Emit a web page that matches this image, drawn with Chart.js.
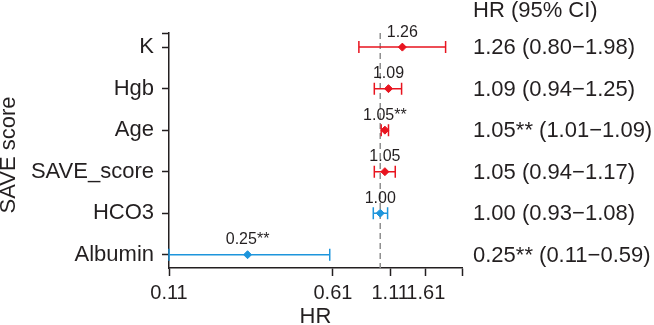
<!DOCTYPE html>
<html>
<head>
<meta charset="utf-8">
<script src="https://cdn.jsdelivr.net/npm/chart.js@4/dist/chart.umd.min.js"></script>
<style>
  html, body { margin: 0; padding: 0; background: #fff; }
  #grafico { display: block; }
</style>
</head>
<body>
<canvas id="grafico" width="654" height="325"></canvas>
<script>
const variaveis = ['K', 'Hgb', 'Age', 'SAVE_score', 'HCO3', 'Albumin'];
const hr = [1.26, 1.09, 1.05, 1.05, 1.00, 0.25];
const icInferior = [0.80, 0.94, 1.01, 0.94, 0.93, 0.11];
const icSuperior = [1.98, 1.25, 1.09, 1.17, 1.08, 0.59];
const rotulosPonto = ['1.26', '1.09', '1.05**', '1.05', '1.00', '0.25**'];
const textoIC = ['1.26 (0.80\u22121.98)', '1.09 (0.94\u22121.25)', '1.05** (1.01\u22121.09)',
  '1.05 (0.94\u22121.17)', '1.00 (0.93\u22121.08)', '0.25** (0.11\u22120.59)'];
const ticksX = [0.11, 0.61, 1.11, 1.61];
const xMin = 0.11, xMax = 2.35;

const VERMELHO = '#e8141f';
const AZUL = '#1d95dc';
const ESCURO = '#231f20';
const FONTE = "'Liberation Sans', Arial, sans-serif";

const n = variaveis.length;
const cores = hr.map(v => v > 1 ? VERMELHO : AZUL);

const pluginForest = {
  id: 'forest',
  beforeDatasetsDraw(chart) {
    const ctx = chart.ctx;
    const x = chart.scales.x, y = chart.scales.y;
    const area = chart.chartArea;
    // linha de referencia HR = 1
    ctx.save();
    ctx.strokeStyle = '#8f8f8f';
    ctx.lineWidth = 1.5;
    ctx.setLineDash([6, 4]);
    ctx.beginPath();
    ctx.moveTo(x.getPixelForValue(1), area.top);
    ctx.lineTo(x.getPixelForValue(1), area.bottom);
    ctx.stroke();
    ctx.setLineDash([]);
    // intervalos de confianca
    ctx.lineWidth = 1.5;
    for (let i = 0; i < n; i++) {
      const py = y.getPixelForValue(n - i);
      const x1 = x.getPixelForValue(icInferior[i]);
      const x2 = x.getPixelForValue(icSuperior[i]);
      ctx.strokeStyle = cores[i];
      ctx.beginPath();
      ctx.moveTo(x1, py); ctx.lineTo(x2, py);
      ctx.moveTo(x1, py - 6); ctx.lineTo(x1, py + 6);
      ctx.moveTo(x2, py - 6); ctx.lineTo(x2, py + 6);
      ctx.stroke();
    }
    ctx.restore();
  },
  afterDraw(chart) {
    const ctx = chart.ctx;
    const x = chart.scales.x, y = chart.scales.y;
    ctx.save();
    ctx.fillStyle = ESCURO;
    ctx.textBaseline = 'middle';
    // rotulos acima dos pontos
    ctx.font = '16px ' + FONTE;
    ctx.textAlign = 'center';
    for (let i = 0; i < n; i++) {
      ctx.fillText(rotulosPonto[i], x.getPixelForValue(hr[i]), y.getPixelForValue(n - i) - 15);
    }
    // coluna da direita
    ctx.font = '22px ' + FONTE;
    ctx.textAlign = 'left';
    ctx.fillText('HR (95% CI)', 473, 11);
    for (let i = 0; i < n; i++) {
      ctx.fillText(textoIC[i], 473, y.getPixelForValue(n - i) + 1);
    }
    // titulos dos eixos
    ctx.textAlign = 'center';
    ctx.fillText('HR', (chart.chartArea.left + chart.chartArea.right) / 2, 317);
    ctx.translate(9, 155);
    ctx.rotate(-Math.PI / 2);
    ctx.fillText('SAVE score', 0, 0);
    ctx.restore();
  }
};

const eixoComum = {
  grid: { drawOnChartArea: false, drawTicks: true, tickColor: ESCURO, tickWidth: 1.5 },
  border: { color: ESCURO, width: 1.5 },
  ticks: { color: ESCURO, font: { family: FONTE, size: 22 } }
};

new Chart(document.getElementById('grafico'), {
  type: 'scatter',
  data: {
    datasets: [{
      data: hr.map((v, i) => ({ x: v, y: n - i })),
      pointStyle: 'rectRot',
      pointRadius: 4,
      pointBackgroundColor: cores,
      pointBorderColor: cores,
      pointBorderWidth: 1
    }]
  },
  options: {
    responsive: false,
    animation: false,
    devicePixelRatio: 1,
    layout: { padding: { top: 33, right: 192, left: 0, bottom: 0 } },
    plugins: { legend: { display: false }, tooltip: { enabled: false } },
    scales: {
      x: {
        type: 'logarithmic',
        min: xMin,
        max: xMax,
        grid: { ...eixoComum.grid, tickLength: 8 },
        border: eixoComum.border,
        ticks: {
          color: ESCURO,
          font: { family: FONTE, size: 20 },
          padding: 5,
          maxRotation: 0,
          autoSkip: false,
          callback: (v) => ticksX.includes(v) ? v.toFixed(2) : ''
        },
        afterBuildTicks: (s) => { s.ticks = [...ticksX, xMax].map(v => ({ value: v })); },
        afterFit: (s) => { s.height = 57; }
      },
      y: {
        type: 'linear',
        min: 0.68,
        max: 6.34,
        grid: { ...eixoComum.grid, tickLength: 7 },
        border: eixoComum.border,
        ticks: {
          ...eixoComum.ticks,
          padding: 8,
          autoSkip: false,
          callback: (v) => Number.isInteger(v) ? variaveis[n - v] : ''
        },
        afterBuildTicks: (s) => { s.ticks = [1, 2, 3, 4, 5, 6, 6.34].map(v => ({ value: v })); },
        afterFit: (s) => { s.width = 169; }
      }
    }
  },
  plugins: [pluginForest]
});
</script>
</body>
</html>
